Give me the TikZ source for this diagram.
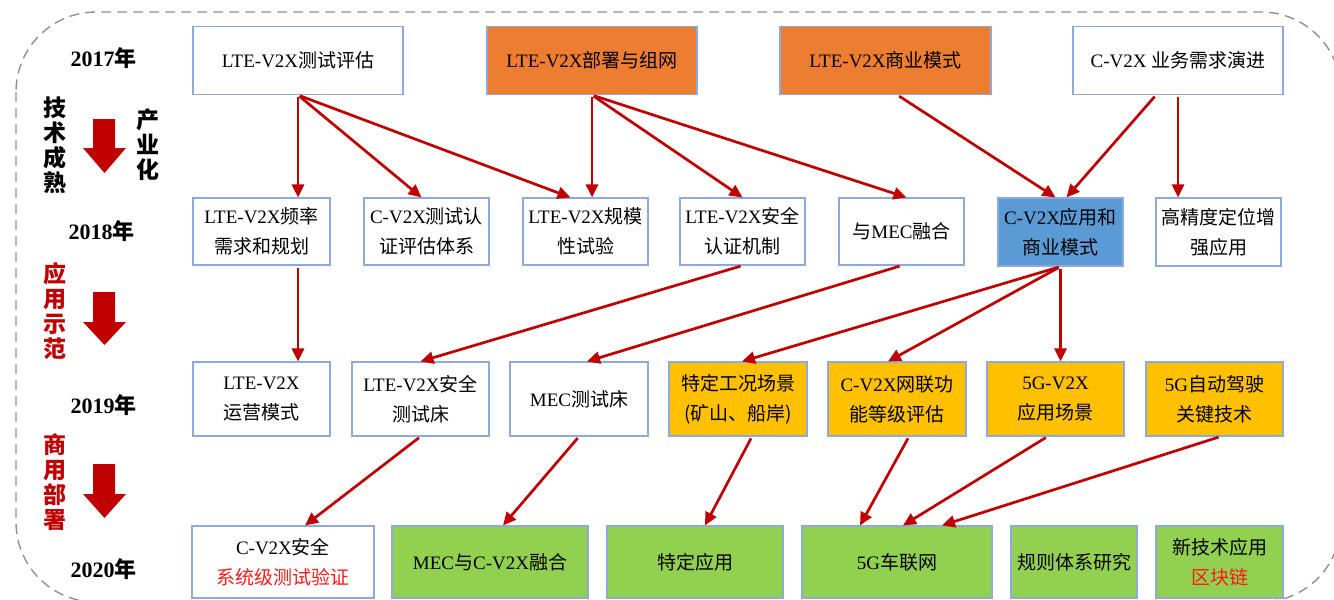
\documentclass[tikz,border=0pt]{standalone}
\usepackage{fontspec}
\setmainfont{Liberation Serif}
\newfontfamily\cjk{Noto Sans CJK SC}
\usetikzlibrary{arrows.meta,calc}
\definecolor{bord}{HTML}{8EA9DB}
\definecolor{arr}{HTML}{C00000}
\definecolor{orng}{HTML}{ED7D31}
\definecolor{blu}{HTML}{5B9BD5}
\definecolor{yel}{HTML}{FFC000}
\definecolor{grn}{HTML}{92D050}
\definecolor{dashgray}{HTML}{909090}
\definecolor{hired}{HTML}{FF1A1A}
\newcommand{\zh}[1]{{\cjk #1}}
\begin{document}
\begin{tikzpicture}[x=1pt,y=-1pt,
  box/.style={draw=bord,line width=1.1pt,fill=white,inner sep=0pt,align=center,
    font=\fontsize{19}{30}\selectfont},
  rA/.style={box,minimum width=210pt,minimum height=68pt},
  rB/.style={box,minimum width=125pt,minimum height=67pt},
  rC/.style={box,minimum width=137pt,minimum height=74pt},
  rD/.style={box,minimum height=72pt},
  conn/.style={draw=arr,line width=2.7pt,-{Triangle[length=13pt,width=12pt]},shorten <=2pt},
  year/.style={font=\fontsize{22}{24}\selectfont\bfseries,inner sep=0pt},
  vlab/.style={font=\cjk\bfseries\fontsize{23}{25}\selectfont,align=center,inner sep=0pt},
  blockarrow/.style={fill=arr,draw=none}
]
\useasboundingbox (0,0) rectangle (1334,600);
\begin{scope}
\clip (0,0) rectangle (1334,600);
\draw[dashgray,line width=1.4pt,dash pattern=on 10pt off 6pt,rounded corners=80pt]
  (16,12) rectangle (1341,602);
\end{scope}

% left labels
\node[year] (y17) at (103.5,58) {2017\zh{年}};
\node[year] (y18) at (101.5,231) {2018\zh{年}};
\node[year] (y19) at (103.5,405) {2019\zh{年}};
\node[year] (y20) at (103.5,569) {2020\zh{年}};
\node[vlab] (l1) at (55,145) {技\\术\\成\\熟};
\node[vlab] (l2) at (148,145) {产\\业\\化};
\node[vlab,text=arr] (l3) at (55,311) {应\\用\\示\\范};
\node[vlab,text=arr] (l4) at (55,482) {商\\用\\部\\署};
\fill[blockarrow] (93,119) -- (115,119) -- (115,148) -- (126,148) -- (104.5,173) -- (83,148) -- (93,148) -- cycle;
\fill[blockarrow] (93,292) -- (115,292) -- (115,322) -- (126,322) -- (104.5,345) -- (83,322) -- (93,322) -- cycle;
\fill[blockarrow] (93,464) -- (115,464) -- (115,494) -- (126,494) -- (104.5,518) -- (83,494) -- (93,494) -- cycle;

% row A
\node[rA] (A1) at (298,60.5) {LTE-V2X\zh{测试评估}};
\node[rA,fill=orng] (A2) at (592,60.5) {LTE-V2X\zh{部署与组网}};
\node[rA,fill=orng,minimum width=211pt] (A3) at (885.5,60.5) {LTE-V2X\zh{商业模式}};
\node[rA] (A4) at (1178,60.5) {C-V2X \zh{业务需求演进}};

% row B
\node[rB,minimum width=137pt] (B1) at (261.5,231.5) {LTE-V2X\zh{频率}\\\zh{需求和规划}};
\node[rB] (B2) at (426.5,231.5) {C-V2X\zh{测试认}\\\zh{证评估体系}};
\node[rB] (B3) at (585.5,231.5) {LTE-V2X\zh{规模}\\\zh{性试验}};
\node[rB] (B4) at (742.5,231.5) {LTE-V2X\zh{安全}\\\zh{认证机制}};
\node[rB] (B5) at (901.5,231.5) {\zh{与}MEC\zh{融合}};
\node[rB,fill=blu,minimum height=68pt] (B6) at (1060.5,232) {C-V2X\zh{应用和}\\\zh{商业模式}};
\node[rB,minimum height=68pt] (B7) at (1218.5,232) {\zh{高精度定位增}\\\zh{强应用}};

% row C
\node[rC] (C1) at (261.5,399) {LTE-V2X\\\zh{运营模式}};
\node[rC] (C2) at (420.5,399) {LTE-V2X\zh{安全}\\\zh{测试床}};
\node[rC,minimum width=138pt] (C3) at (579,399) {MEC\zh{测试床}};
\node[rC,fill=yel,minimum width=138pt] (C4) at (738,399) {\zh{特定工况场景}\\\zh{(矿山、船岸)}};
\node[rC,fill=yel,minimum width=138pt] (C5) at (897,399) {C-V2X\zh{网联功}\\\zh{能等级评估}};
\node[rC,fill=yel] (C6) at (1055.5,399) {5G-V2X\\\zh{应用场景}};
\node[rC,fill=yel] (C7) at (1214.5,399) {5G\zh{自动驾驶}\\\zh{关键技术}};

% row D
\node[rD,minimum width=182pt] (D1) at (283,562) {C-V2X\zh{安全}\\\textcolor{hired}{\zh{系统级测试验证}}};
\node[rD,fill=grn,minimum width=196pt] (D2) at (490,562) {MEC\zh{与}C-V2X\zh{融合}};
\node[rD,fill=grn,minimum width=176pt] (D3) at (695,562) {\zh{特定应用}};
\node[rD,fill=grn,minimum width=190pt] (D4) at (897,562) {5G\zh{车联网}};
\node[rD,fill=grn,minimum width=126pt] (D5) at (1074,562) {\zh{规则体系研究}};
\node[rD,fill=grn,minimum width=127pt] (D6) at (1219.5,562) {\zh{新技术应用}\\\textcolor{hired}{\zh{区块链}}};

% connectors
\draw[conn] (A1.south) -- (A1.south |- B1.north);
\draw[conn] (A1.south) -- ([xshift=-5pt]B2.north);
\draw[conn] (A1.south) -- ([xshift=-15pt]B3.north);
\draw[conn] (A2.south) -- (A2.south |- B3.north);
\draw[conn] (A2.south) -- (B4.north);
\draw[conn] (A2.south) -- ([xshift=5pt]B5.north);
\draw[conn] ([xshift=12pt]A3.south) -- ([xshift=-5pt]B6.north);
\draw[conn] ([xshift=-22pt]A4.south) -- ([xshift=6pt]B6.north);
\draw[conn] (A4.south) -- (A4.south |- B7.north);
\draw[conn] (A1.south |- B1.south) -- (A1.south |- C1.north);
\draw[conn] (B4.south) -- (C2.north);
\draw[conn] (B5.south) -- ([xshift=8pt]C3.north);
\draw[conn] (B6.south) -- ([xshift=4pt]C4.north);
\draw[conn] (B6.south) -- ([xshift=-9pt]C5.north);
\draw[conn] (B6.south) -- (B6.south |- C6.north);
\draw[conn] (C2.south) -- ([xshift=22pt]D1.north);
\draw[conn] (C3.south) -- ([xshift=13pt]D2.north);
\draw[conn] ([xshift=14pt]C4.south) -- ([xshift=10pt]D3.north);
\draw[conn] ([xshift=12pt]C5.south) -- ([xshift=-37pt]D4.north);
\draw[conn] ([xshift=-8pt]C6.south) -- ([xshift=6pt]D4.north);
\draw[conn] ([xshift=6pt]C7.south) -- ([xshift=45pt]D4.north);
\end{tikzpicture}
\end{document}
